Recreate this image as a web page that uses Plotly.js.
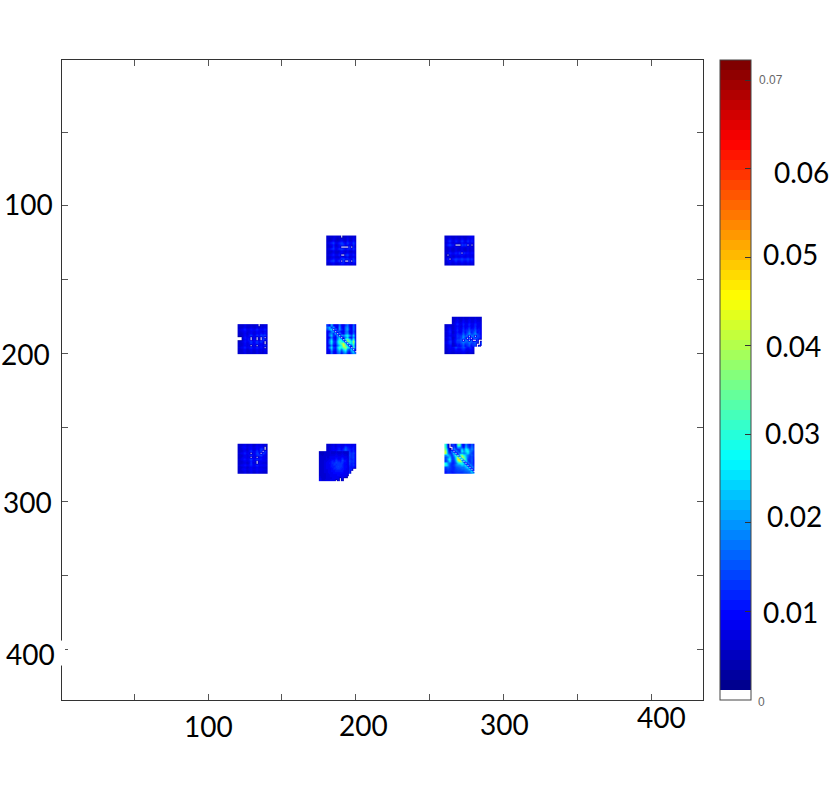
<!DOCTYPE html>
<html><head><meta charset="utf-8">
<script src="https://cdn.plot.ly/plotly-3.0.1.min.js"></script>
<style>html,body{margin:0;padding:0;background:#fff}#c{width:830px;height:789px}</style></head>
<body><div id="c"></div>
<script>
// Cell values in thousandths; 0 renders white.
const patchTopMid = [
[6,6,6,7,7,6,7,0,6,6,7,6,6,7,6],
[6,5,6,8,6,5,6,9,6,6,9,6,6,9,6],
[6,6,7,9,6,6,7,9,7,6,10,6,7,10,6],
[7,9,12,14,8,9,12,14,11,8,13,10,9,14,8],
[6,7,8,11,6,7,10,13,12,9,11,7,8,12,7],
[6,6,7,12,7,7,9,0,0,0,0,14,0,11,6],
[7,9,12,13,8,10,13,14,12,10,12,11,10,13,8],
[6,6,6,8,6,6,7,9,7,6,8,6,6,8,6],
[6,6,7,9,6,6,8,10,8,7,9,7,7,9,6],
[7,8,10,12,8,9,12,0,0,13,14,9,9,12,8],
[6,6,7,8,6,6,7,10,8,7,9,6,7,8,6],
[6,7,9,11,8,8,10,13,14,11,12,9,10,13,7],
[8,10,13,14,9,11,14,0,14,0,0,14,0,14,10],
[6,7,8,10,7,7,8,12,11,9,10,8,8,10,7],
[6,6,6,8,6,6,7,9,8,7,8,6,6,8,6]];
const patchTopRight = [
[6,6,7,6,6,7,6,6,7,6,6,7,8,9,7],
[6,7,9,7,6,8,7,6,9,7,6,9,7,10,6],
[7,10,13,9,8,12,9,8,13,10,8,13,9,12,8],
[6,8,10,7,7,9,7,7,10,8,7,10,8,10,7],
[7,12,14,11,10,0,0,0,14,12,14,0,11,0,8],
[6,7,9,8,7,9,8,7,9,8,7,9,7,9,6],
[6,6,8,6,6,8,6,6,8,6,6,8,6,8,6],
[6,6,8,6,6,8,7,7,9,7,6,8,6,8,6],
[7,9,12,9,9,12,10,14,0,13,10,11,9,11,8],
[6,0,9,7,7,9,8,9,11,9,7,9,7,9,6],
[6,7,9,7,6,8,7,7,9,7,7,9,7,9,6],
[7,12,0,10,12,14,12,12,14,12,12,14,11,13,8],
[6,9,11,8,9,13,9,10,12,10,9,12,9,11,7],
[6,7,9,7,7,9,7,7,9,8,7,9,7,9,6],
[6,6,7,6,6,7,6,6,7,6,6,7,6,7,6]];
const patchMidLeft = [
[6,6,6,8,6,6,7,6,6,8,0,7,6,8,6],
[6,6,7,9,6,6,8,7,6,9,6,8,7,9,6],
[7,8,10,12,8,8,11,9,9,12,9,10,9,12,7],
[6,7,8,10,7,7,9,8,7,10,8,8,7,10,6],
[6,6,7,9,6,8,10,7,7,10,8,11,9,11,6],
[6,6,7,10,7,9,14,9,8,13,10,14,12,14,7],
[0,0,8,11,8,10,0,8,9,0,9,0,13,0,7],
[0,0,7,10,8,11,0,8,10,0,9,0,14,12,7],
[6,7,8,11,8,10,14,9,10,14,9,14,10,0,7],
[6,6,7,10,7,8,13,8,9,13,8,10,8,0,6],
[6,6,7,9,7,8,0,8,8,0,8,10,8,14,6],
[7,8,9,12,8,9,13,9,9,12,9,11,9,0,7],
[6,6,7,9,6,7,9,7,7,9,7,8,7,10,6],
[6,6,7,9,6,6,8,6,6,9,6,8,6,9,6],
[6,6,6,8,6,6,7,6,6,8,6,7,6,8,6]];
const patchCenter = [
[13,9,22,10,8,9,18,9,8,14,17,9,8,16,8],
[17,24,11,22,9,9,21,10,9,18,20,10,9,18,9],
[14,20,26,0,19,10,20,12,9,18,21,11,9,17,8],
[8,10,18,22,0,17,12,9,8,16,18,8,8,15,7],
[9,15,19,11,24,0,20,11,9,18,20,10,9,17,8],
[8,18,24,12,11,24,0,22,19,25,28,20,14,26,9],
[8,10,18,10,9,17,25,0,12,20,24,11,11,21,8],
[9,17,24,11,10,20,28,26,0,30,36,27,16,32,9],
[9,19,28,13,12,24,33,29,24,0,38,33,25,41,11],
[9,18,25,12,11,22,30,36,42,27,0,28,24,36,10],
[8,11,20,9,9,18,24,30,46,32,24,0,16,30,9],
[9,19,26,13,12,24,32,28,36,40,28,24,0,34,11],
[9,11,22,11,10,20,26,16,26,32,17,14,26,0,10],
[8,9,18,9,9,17,21,12,20,24,13,11,20,27,0],
[7,9,16,9,8,15,17,10,16,18,11,9,15,20,19]];
const patchMidRight = [
[6,7,7,6,6,8,7,6,7,8,7,6,7,7,6],
[6,8,10,7,7,10,8,7,9,11,8,7,9,9,7],
[6,8,11,8,7,11,9,8,10,12,9,8,10,10,7],
[7,9,12,9,9,13,10,10,13,14,12,10,12,12,8],
[6,8,11,9,9,12,11,10,14,17,15,11,13,14,8],
[6,8,10,8,8,11,10,9,13,16,13,10,11,13,8],
[7,9,12,9,10,14,12,12,16,20,15,12,14,15,9],
[6,8,11,10,12,17,14,13,0,18,13,12,0,14,8],
[7,10,13,12,14,0,16,0,15,0,16,0,15,0,9],
[7,10,12,11,13,0,15,0,16,0,14,0,14,12,8],
[6,8,10,9,11,16,13,12,14,18,12,11,13,11,7],
[6,8,10,9,10,14,11,11,13,15,11,10,12,10,7],
[6,7,9,8,8,11,9,9,11,12,9,8,10,9,7],
[6,7,8,7,7,9,8,8,9,10,8,7,8,8,6],
[5,6,7,6,6,7,6,6,7,8,6,6,7,6,5]];
const patchMidRightOffset = [
[6,6,7,6,6,7,6,6,7,6,6,7,6,6,6],
[6,7,9,7,6,9,7,7,9,7,7,9,7,7,6],
[6,8,10,7,7,10,8,7,10,7,7,10,8,8,7],
[7,9,12,9,8,12,9,9,12,9,9,12,9,9,7],
[6,8,10,8,7,11,8,9,11,8,9,12,8,9,7],
[6,8,11,8,8,12,9,10,13,9,10,13,9,10,7],
[7,9,12,9,9,13,11,12,15,12,12,15,11,11,8],
[6,8,11,8,9,14,10,13,18,11,13,17,10,12,8],
[7,9,12,11,11,16,12,15,21,14,15,20,14,12,8],
[7,9,13,12,13,19,15,18,0,18,17,0,15,13,8],
[6,9,12,12,14,20,13,0,22,0,15,19,13,12,8],
[7,10,14,14,16,0,17,17,0,17,0,0,14,0,0],
[7,10,13,13,15,19,16,15,18,15,14,16,13,0,14],
[6,8,11,10,13,16,12,13,16,12,13,15,0,0,15],
[6,7,10,9,11,14,10,12,14,10,12,14,0,15,0]];
const patchBottomLeft = [
[6,6,7,8,6,7,8,6,6,8,7,8,7,8,6],
[6,7,9,10,7,8,10,7,8,10,8,10,9,0,7],
[6,6,8,9,6,8,10,7,7,10,8,13,12,0,6],
[6,6,7,9,7,8,14,8,8,13,9,14,0,14,6],
[7,8,9,12,8,9,0,9,9,14,11,0,14,11,7],
[6,6,7,9,7,8,14,8,8,13,12,14,10,9,6],
[6,6,8,9,7,8,0,8,8,0,9,10,8,8,6],
[7,8,10,11,8,10,14,10,10,14,10,11,9,9,7],
[6,6,7,9,7,8,12,8,8,0,9,9,8,8,6],
[6,6,7,8,6,7,13,7,7,0,8,8,7,7,6],
[7,8,9,11,8,9,12,9,9,12,9,10,9,9,7],
[6,6,7,8,6,7,9,7,7,9,7,8,7,7,6],
[6,7,9,10,7,8,10,8,8,10,8,9,8,8,6],
[6,6,7,8,6,7,9,7,7,9,7,8,7,7,6],
[6,6,6,8,6,6,8,6,6,8,6,7,6,6,6]];
const patchBottomMid = [
[6,6,7,8,6,8,8,7,7,10,8,9,7,9,7],
[6,7,8,10,7,10,10,8,10,14,11,10,9,11,7],
[6,7,8,9,8,10,11,9,12,16,12,11,10,11,7],
[6,7,9,10,9,12,13,11,12,15,12,12,10,12,8],
[7,8,10,11,10,14,16,12,14,17,14,13,12,14,9],
[6,7,9,10,10,13,15,13,16,19,15,14,12,13,8],
[7,8,9,12,12,14,14,14,15,17,14,13,12,14,8],
[6,8,10,11,11,12,15,13,13,15,13,13,11,13,8],
[7,8,10,11,12,15,17,14,15,17,14,14,12,13,8],
[6,7,9,11,11,14,15,13,14,15,13,13,11,12,8],
[7,8,10,11,10,12,13,12,12,14,12,12,11,13,8],
[6,7,8,10,9,11,12,10,11,13,10,11,10,11,7],
[6,7,8,9,9,10,11,10,10,12,10,11,12,0,0],
[6,7,8,9,8,9,10,9,9,11,10,12,0,0,0],
[6,6,7,8,7,8,9,8,9,10,9,13,0,0,0]];
const patchBottomMidOffset = [
[5,5,6,6,6,7,6,6,7,6,6,7,6,6,6],
[6,5,6,6,6,7,7,7,8,7,7,8,7,7,6],
[6,6,6,7,6,8,8,8,9,8,8,9,8,8,7],
[6,6,6,7,7,8,9,9,11,9,9,12,9,9,7],
[6,6,7,7,8,9,11,10,13,11,10,14,11,10,7],
[6,6,7,8,9,10,12,12,14,13,12,13,10,10,7],
[6,6,7,8,8,10,11,13,12,13,13,12,10,9,7],
[6,6,7,8,8,10,11,11,13,14,13,12,10,10,7],
[6,6,7,8,8,9,10,12,12,13,12,11,10,9,7],
[6,6,7,7,8,9,10,10,11,11,11,11,9,9,7],
[6,6,7,7,8,9,9,10,10,10,10,10,9,9,7],
[6,6,6,7,7,8,9,9,9,10,9,9,8,8,7],
[7,6,6,7,7,8,8,9,9,9,9,9,8,8,0],
[8,6,6,7,7,7,8,8,8,9,0,10,0,0,0],
[10,7,7,8,8,9,9,9,0,8,0,8,0,0,0]];
const patchBottomRight = [
[30,8,0,14,13,8,34,33,12,9,20,13,10,16,11],
[31,9,0,0,16,10,22,20,14,10,23,15,12,18,12],
[36,14,5,0,22,14,12,14,24,16,28,24,15,20,13],
[40,16,8,20,0,20,15,12,28,20,25,30,18,16,12],
[42,18,12,14,27,0,18,16,20,17,21,26,17,14,12],
[20,24,18,12,20,32,0,30,38,28,22,18,14,16,12],
[14,18,24,13,15,26,42,0,44,36,24,16,13,15,11],
[14,22,30,14,14,24,46,50,0,38,26,14,13,16,10],
[12,18,26,13,12,20,36,42,34,0,28,15,12,16,10],
[28,20,16,12,12,16,24,28,30,24,0,20,14,15,10],
[30,22,14,12,13,18,20,20,24,22,26,0,20,16,11],
[14,16,14,12,12,15,16,17,18,18,22,26,0,22,12],
[12,14,13,12,12,14,15,15,16,16,18,20,26,0,16],
[11,13,12,11,12,13,14,14,14,15,16,17,18,28,0],
[10,12,12,11,11,12,13,13,13,14,14,15,16,20,24]];

const patchStartX = [180,260,120,180,260,265,120,180,175,260];
const patchStartY = [120,120,180,180,180,175,261,261,266,261];
const patchGrids = [patchTopMid,patchTopRight,patchMidLeft,patchCenter,patchMidRight,patchMidRightOffset,patchBottomLeft,patchBottomMid,patchBottomMidOffset,patchBottomRight];

const axisTicks = [50,100,150,200,250,300,350,400];
const colorbarTicks = [0.01,0.02,0.03,0.04,0.05,0.06,0.07];
const colorMax = 0.0723, bands = 64;

// 64-step jet, with the lowest band white
const jetStops = [[0,0,0,143],[0.11,0,0,255],[0.365,0,255,255],[0.625,255,255,0],[0.875,255,0,0],[1,128,0,0]];
function jet(t){
  for(let i=1;i<jetStops.length;i++){
    if(t<=jetStops[i][0]){
      const a=jetStops[i-1],b=jetStops[i],f=(t-a[0])/(b[0]-a[0]);
      return 'rgb('+[1,2,3].map(k=>Math.round(a[k]+(b[k]-a[k])*f)).join(',')+')';
    }
  }
  return 'rgb(128,0,0)';
}
const colorscale=[];
for(let i=0;i<bands;i++){
  const c=i===0?'#ffffff':jet((i-1)/(bands-2));
  colorscale.push([i/bands,c],[(i+1)/bands,c]);
}

const cell=20/15;
const traces=patchGrids.map((g,i)=>({
  type:'heatmap', coloraxis:'coloraxis', hoverinfo:'skip', zsmooth:'best',
  z:g.map(r=>r.map(v=>v/1000)),
  x0:patchStartX[i]+cell/2, dx:cell, y0:patchStartY[i]+cell/2, dy:cell
}));

const W=830,H=789,L=62,R=703,T=60,B=700.5;
const px=x=>(x-L)/(R-L), py=y=>(B-y)/(B-T);
const big={family:'Lato, Carlito, sans-serif',size:28,color:'#000'};
const small={family:'Liberation Sans, Arial, sans-serif',size:12,color:'#666'};
const labels=[
 ['100',208,727,big],['200',363,726,big],['300',504,725,big],['400',661,718,big],
 ['100',28,204,big],['200',25,354,big],['300',27,502,big],['400',30,654,big],
 ['0.07',771,80,small],['0.06',801,172,big],['0.05',790,254,big],['0.04',793,346,big],
 ['0.03',792,433,big],['0.02',794,516,big],['0.01',790,612,big],['0',761,703,small]
];
const annotations=labels.map(([text,x,y,font])=>({
  text, font, xref:'paper', yref:'paper', x:px(x), y:py(y),
  xanchor:'center', yanchor:'middle', showarrow:false
}));
const axis={tickmode:'array', tickvals:axisTicks, ticktext:axisTicks.map(()=>''),
  ticks:'inside', ticklen:6, tickcolor:'#555', tickwidth:1, mirror:'allticks',
  showline:true, linecolor:'#333', linewidth:1, showgrid:false, zeroline:false};
Plotly.newPlot('c',traces,{
  width:W,height:H,paper_bgcolor:'#fff',plot_bgcolor:'#fff',showlegend:false,
  margin:{l:L,r:W-R,t:T,b:H-B,pad:0},
  xaxis:Object.assign({},axis,{range:[1.15,435]}),
  yaxis:Object.assign({},axis,{range:[434.5,1.15]}),
  coloraxis:{cmin:0,cmax:colorMax,colorscale,colorbar:{
    x:(720-L)/(R-L),xanchor:'left',xpad:0,y:0,yanchor:'bottom',ypad:0,len:1,
    thickness:31,thicknessmode:'pixels',outlinecolor:'#444',outlinewidth:1,
    tickmode:'array',tickvals:colorbarTicks,ticks:'inside',ticklen:6,tickcolor:'#333',showticklabels:false
  }},
  annotations,
  shapes:[{type:'rect',xref:'paper',yref:'paper',x0:px(50),x1:px(65),y0:py(666),y1:py(641),
    fillcolor:'#fff',line:{width:0},layer:'above'}]
},{displayModeBar:false,staticPlot:true});
</script></body></html>
